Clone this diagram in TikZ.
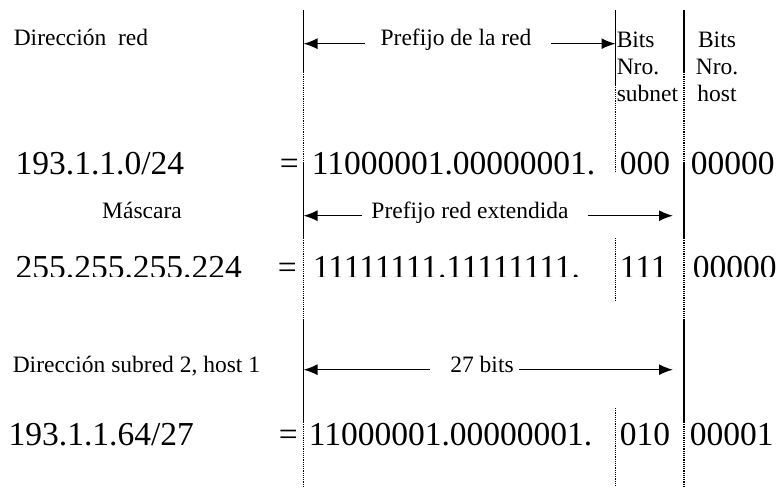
\documentclass[tikz,border=0pt]{standalone}
\usepackage{fontspec}
\setmainfont{Liberation Serif}
\usetikzlibrary{arrows.meta}

\tikzset{
  lbl/.style={font=\fontsize{23.5}{27}\selectfont,inner sep=0pt},
  num/.style={font=\fontsize{33.5}{38}\selectfont,inner sep=0pt,anchor=base west},
  bar/.style={line width=1.4pt},
  guide/.style={line width=1.2pt,densely dotted},
}

\begin{document}
\begin{tikzpicture}[x=1pt,y=-1pt,>={Latex[length=14pt,width=11pt]},line width=1.5pt]
\useasboundingbox (0,0) rectangle (784,487);

\coordinate (l1) at (303.5,0);
\coordinate (l2) at (615.5,0);
\coordinate (l3) at (684,0);

% outer guides
\foreach \x in {303.5,684}{
  \draw[bar]   (\x,10)  -- (\x,72);
  \draw[guide] (\x,72)  -- (\x,162);
  \draw[bar]   (\x,162) -- (\x,238);
  \draw[guide] (\x,238) -- (\x,320);
  \draw[bar]   (\x,320) -- (\x,422);
  \draw[guide] (\x,422) -- (\x,487);
}
% subnet guide
\draw[bar]   (615.5,10)  -- (615.5,85);
\draw[guide] (615.5,85)  -- (615.5,172);
\draw[guide] (615.5,238) -- (615.5,300);
\draw[guide] (615.5,408) -- (615.5,487);

\node[lbl,anchor=base west] (dirred) at (13,46)  {Dirección\ \ red};
\node[lbl,anchor=base]      (pref)   at (456,46) {Prefijo de la red};
% base of a multi-line node is its last line
\node[lbl,anchor=base west,align=left]  (subbits)  at (616,101) {Bits\\Nro.\\subnet};
\node[lbl,anchor=base,align=center]     (hostbits) at (717,101) {Bits\\Nro.\\host};

\draw[->,shorten <=15pt] (pref.mid west) -- (pref.mid west -| l1);
\draw[->,shorten <=19pt] (pref.mid east) -- (pref.mid east -| l2);

% network address
\node[num] (net)   at (15,174)  {193.1.1.0/24};
\node[num] (neteq) at (279,174) {=};
\node[num] (netpf) at (311,174) {11000001.00000001.};
\node[num] (netsb) at (619,174) {000};
\node[num] (netho) at (690,174) {00000};

\node[lbl,anchor=base] (masc) at (142,218) {Máscara};
\node[lbl,anchor=base] (ext)  at (470,218) {Prefijo red extendida};
\draw[->,shorten <=9pt] (ext.mid west) -- (ext.mid west -| l1);
\draw[->,shorten <=19pt,shorten >=11pt] (ext.mid east) -- (ext.mid east -| l3);

% mask, cut at the bottom
\begin{scope}
  \clip (0,240) rectangle (784,276);
  \node[num] (mask)   at (15,278)  {255.255.255.224};
  \node[num] (maskeq) at (277,278) {=};
  \node[num] (maskpf) at (312,278) {11111111.11111111.};
  \node[num] (masksb) at (619,278) {111};
  \node[num] (maskho) at (692,278) {00000};
\end{scope}

\node[lbl,anchor=base west] (hostad) at (12,372) {Dirección subred 2, host 1};
\node[lbl,anchor=base]      (bits27) at (482,372) {27 bits};
\draw[->,shorten <=20pt] (bits27.mid west) -- (bits27.mid west -| l1);
\draw[->,shorten <=5pt,shorten >=11pt] (bits27.mid east) -- (bits27.mid east -| l3);

% host address
\node[num] (host)   at (8,445)   {193.1.1.64/27};
\node[num] (hosteq) at (278,445) {=};
\node[num] (hostpf) at (308,445) {11000001.00000001.};
\node[num] (hostsb) at (619,445) {010};
\node[num] (hostho) at (689,445) {00001};
\end{tikzpicture}
\end{document}
